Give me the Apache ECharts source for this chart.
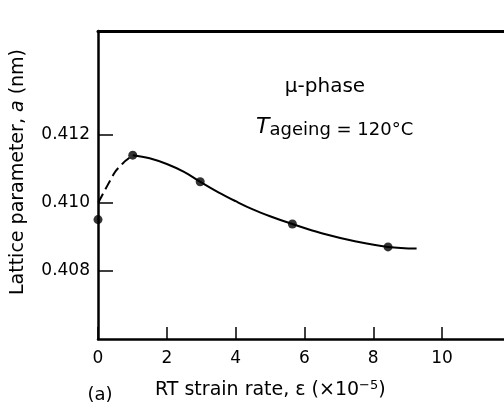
<!DOCTYPE html>
<html><head><meta charset="utf-8">
<script src="https://cdn.jsdelivr.net/npm/echarts@6/dist/echarts.min.js"></script>
<style>html,body{margin:0;padding:0;background:#fff}#c{width:504px;height:409px}</style>
</head><body><div id="c"></div>
<script>
// measured points (strain rate x1e-5, lattice parameter nm)
var pointsX = [0, 1.01, 2.97, 5.65, 8.43];
var pointsY = [0.4095, 0.41139, 0.41061, 0.40937, 0.40870];
// fitted solid curve
var curveX = [1.01, 1.5, 2.0, 2.5, 2.97, 3.5, 4.0, 4.5, 5.0, 5.65, 6.5, 7.5, 8.43, 9.26];
var curveY = [0.41139, 0.41130, 0.41113, 0.41090, 0.41061, 0.41030, 0.41004, 0.40980, 0.40960,
              0.40937, 0.40910, 0.40886, 0.40870, 0.40865];
// dashed extrapolation to zero strain rate
var dashX = [0.01, 0.49, 0.74, 1.01];
var dashY = [0.4100, 0.41089, 0.41117, 0.41139];
var xTicks = [0, 2, 4, 6, 8, 10];
var yTicks = [0.408, 0.410, 0.412];

function zip(a, b) { return a.map(function (v, i) { return [v, b[i]]; }); }

var chart = echarts.init(document.getElementById('c'), null, {renderer: 'canvas'});
var font = 'DejaVu Sans';
chart.setOption({
  backgroundColor: '#fff',
  animation: false,
  grid: {left: 98, right: 0, top: 31, bottom: 70},
  xAxis: [{
    type: 'value', min: 0, max: 11.8, interval: 2,
    axisLine: {lineStyle: {color: '#000', width: 2.5}},
    axisTick: {inside: true, length: 12, lineStyle: {color: '#000', width: 1.5}, customValues: xTicks},
    axisLabel: {color: '#000', fontSize: 17, fontFamily: font, margin: 11, customValues: xTicks},
    splitLine: {show: false}
  }, {
    type: 'value', position: 'top', min: 0, max: 11.8,
    axisLine: {show: true, lineStyle: {color: '#000', width: 3}},
    axisTick: {show: false}, axisLabel: {show: false}, splitLine: {show: false}
  }],
  yAxis: {
    type: 'value', min: 0.406, max: 0.41503,
    axisLine: {lineStyle: {color: '#000', width: 2.5}},
    axisTick: {inside: true, length: 15, lineStyle: {color: '#000', width: 1.5}, customValues: yTicks},
    axisLabel: {color: '#000', fontSize: 17, fontFamily: font, margin: 8, customValues: yTicks,
      formatter: function (v) { return v.toFixed(3); }},
    splitLine: {show: false}
  },
  series: [{
    type: 'line', data: zip(curveX, curveY), smooth: 0.4, showSymbol: false,
    lineStyle: {color: '#000', width: 2}
  }, {
    type: 'line', data: zip(dashX, dashY), smooth: 0.2, showSymbol: false,
    lineStyle: {color: '#000', width: 2, type: [10, 5]}
  }, {
    type: 'scatter', data: zip(pointsX, pointsY), symbolSize: 9,
    itemStyle: {color: '#000'}
  }],
  graphic: [{
    type: 'text', x: 18, y: 172, rotation: Math.PI / 2,
    style: {text: 'Lattice parameter, {i|a} (nm)', fill: '#000', font: '19px ' + font,
      align: 'center', verticalAlign: 'middle',
      rich: {i: {fontSize: 19, fontStyle: 'italic', fontFamily: font, fill: '#000'}}}
  }, {
    type: 'text', x: 100, y: 395,
    style: {text: '(a)', fill: '#000', font: '18px ' + font, align: 'center', verticalAlign: 'middle'}
  }, {
    type: 'text', x: 155, y: 379,
    style: {
      text: 'RT strain rate, ε (×10{sup|−5})', fill: '#000', font: '19px ' + font,
      rich: {sup: {fontSize: 13, fontFamily: font, padding: [0, 0, 9, 0], fill: '#000'}}
    }
  }, {
    type: 'text', x: 325, y: 87,
    style: {text: 'μ-phase', fill: '#000', font: '20px ' + font, align: 'center', verticalAlign: 'middle'}
  }, {
    type: 'text', x: 256, y: 116,
    style: {
      text: '{t|T}{s|ageing} = 120°C', fill: '#000', font: '18px ' + font,
      rich: {
        t: {fontSize: 22, fontStyle: 'italic', fontFamily: font, padding: [0, 0, 7, 0], fill: '#000'},
        s: {fontSize: 18, fontFamily: font, fill: '#000'}
      }
    }
  }]
});
</script></body></html>
